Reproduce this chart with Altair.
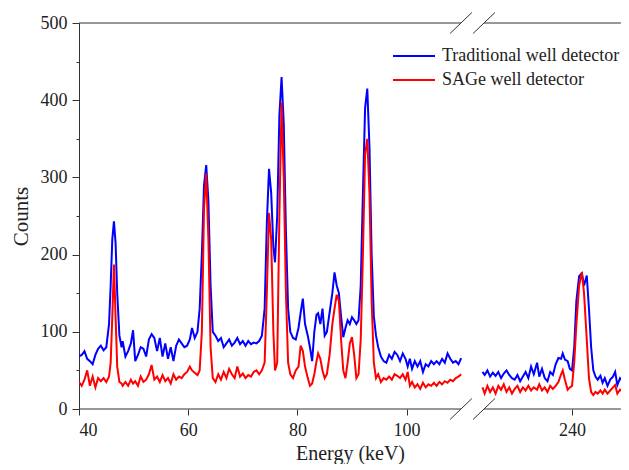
import altair as alt
import pandas as pd

# ---- data (energy in keV, counts) ----
energy_left = [40.0, 40.5, 41.0, 41.5, 42.0, 42.5, 43.0, 43.5, 44.0, 44.5, 45.0, 45.5, 45.8, 46.1, 46.4, 46.7,
               47.0, 47.4, 47.8, 48.0, 48.5, 49.0, 49.5, 49.9, 50.3, 50.8, 51.3, 51.8, 52.3, 52.8, 53.3, 53.8,
               54.3, 54.8, 55.3, 55.8, 56.3, 56.8, 57.3, 57.8, 58.3, 58.8, 59.3, 59.8, 60.3, 60.7, 61.2, 61.7,
               62.1, 62.5, 62.9, 63.3, 63.7, 64.1, 64.5, 65.0, 65.5, 66.0, 66.5, 67.0, 67.5, 68.0, 68.5, 69.0,
               69.5, 70.0, 70.5, 71.0, 71.5, 72.0, 72.5, 73.0, 73.5, 74.0, 74.4, 74.8, 75.2, 75.6, 75.9, 76.3,
               76.7, 77.1, 77.5, 77.9, 78.3, 78.7, 79.2, 79.7, 80.2, 80.6, 81.0, 81.4, 81.9, 82.3, 82.7, 83.1,
               83.5, 83.8, 84.2, 84.6, 85.0, 85.4, 85.9, 86.4, 86.8, 87.2, 87.6, 88.0, 88.4, 88.8, 89.2, 89.6,
               90.0, 90.4, 90.8, 91.2, 91.6, 92.0, 92.4, 92.8, 93.2, 93.6, 94.0, 94.4, 94.8, 95.3, 95.8, 96.3,
               96.8, 97.3, 97.8, 98.3, 98.8, 99.3, 99.8, 100.2, 100.6, 101.0, 101.5, 102.0, 102.5, 103.0, 103.5,
               104.0, 104.5, 105.0, 105.5, 106.0, 106.5, 107.0, 107.5, 108.0, 108.5, 109.0, 109.5, 110.0]
blue_left = [68, 70, 75, 65, 62, 58, 70, 78, 82, 76, 80, 110, 160, 220, 243, 215,
             150, 95, 80, 88, 68, 75, 85, 102, 62, 70, 80, 78, 68, 90, 97, 92,
             75, 92, 68, 85, 65, 80, 62, 82, 90, 85, 80, 82, 90, 105, 92, 100,
             130, 200, 290, 316, 270, 160, 100, 95, 88, 92, 80, 85, 90, 82, 86, 92,
             84, 88, 82, 88, 84, 86, 85, 88, 95, 130, 240, 311, 280, 210, 190, 250,
             380, 430, 370, 230, 130, 100, 92, 90, 105, 125, 143, 110, 95, 80, 62, 100,
             122, 124, 110, 130, 95, 100, 125, 150, 177, 160, 150, 120, 93, 105, 115, 110,
             119, 115, 110, 115, 160, 280, 390, 415, 340, 200, 120, 95, 80, 68, 62, 60,
             70, 65, 74, 70, 62, 72, 65, 55, 65, 52, 62, 55, 62, 48, 58,
             55, 62, 58, 62, 58, 65, 60, 72, 65, 60, 62, 58, 66]
red_left = [35, 30, 38, 50, 30, 42, 28, 40, 36, 40, 35, 42, 60, 120, 187, 120,
            55, 35, 33, 30, 35, 30, 38, 33, 36, 30, 42, 35, 38, 45, 57, 38,
            42, 35, 44, 36, 40, 33, 45, 38, 42, 40, 45, 48, 55, 50, 47, 44,
            50, 100, 260, 305, 220, 80, 40, 35, 45, 38, 48, 40, 52, 45, 40, 55,
            42, 46, 40, 44, 42, 48, 50, 45, 50, 60, 150, 254, 220, 100, 50, 60,
            250, 397, 300, 150, 60, 45, 40, 50, 55, 82, 75, 55, 40, 30, 33, 45,
            62, 72, 65, 50, 40, 45, 70, 110, 130, 148, 140, 90, 50, 40, 60, 85,
            93, 70, 40, 45, 90, 200, 330, 350, 280, 140, 60, 40, 45, 35, 40, 38,
            42, 38, 45, 43, 40, 45, 38, 48, 30, 35, 28, 32, 26, 34, 28,
            32, 30, 34, 30, 35, 32, 36, 34, 38, 36, 40, 42, 45]

energy_right = [223.6, 224.0, 224.5, 225.0, 225.5, 226.0, 226.5, 227.0, 227.5, 228.0, 228.5, 229.0, 229.5,
                230.0, 230.5, 231.0, 231.5, 232.0, 232.5, 233.0, 233.6, 234.0, 234.5, 235.0, 235.5, 236.0,
                236.5, 237.0, 237.5, 238.0, 238.3, 238.7, 239.2, 239.6, 240.0, 240.4, 240.8, 241.3, 241.8,
                242.2, 242.7, 243.1, 243.5, 243.9, 244.3, 244.7, 245.2, 245.6, 246.0, 246.5, 247.0, 247.5,
                247.9, 248.3, 248.8, 249.3, 249.8, 250.3]
blue_right = [48, 44, 50, 42, 47, 43, 48, 40, 46, 50, 44, 40, 38,
              44, 36, 42, 48, 40, 55, 45, 60, 42, 52, 40, 36, 48,
              44, 58, 66, 65, 72, 64, 62, 52, 50, 80, 140, 172, 176,
              160, 173, 130, 80, 50, 42, 38, 43, 34, 40, 30, 38, 42,
              48, 31, 40, 36, 42, 40]
red_right = [28, 20, 30, 22, 28, 20, 30, 25, 32, 22, 28, 20, 26,
             30, 22, 28, 24, 30, 24, 28, 25, 32, 24, 28, 22, 30,
             26, 30, 35, 45, 50, 38, 25, 28, 30, 60, 110, 160, 177,
             150, 90, 40, 22, 18, 22, 20, 24, 20, 25, 20, 24, 28,
             31, 20, 25, 22, 24, 22]

series_names = ["Traditional well detector", "SAGe well detector"]
series_colors = ["#0000ff", "#ff0000"]

# axis break (display units) and display offset of the right segment
AXIS_MIN, AXIS_MAX = 40, 139.27
OFFSET = 109.7
BREAK_LO, BREAK_HI = 109.96, 114.18
x_ticks = [40, 60, 80, 100, 240 - OFFSET]

rows = []
for name, left, right in [(series_names[0], blue_left, blue_right), (series_names[1], red_left, red_right)]:
    for e, c in zip(energy_left, left):
        rows.append({"E": e, "counts": c, "detector": name, "seg": name + "-L"})
    for e, c in zip(energy_right, right):
        rows.append({"E": e, "counts": c, "detector": name, "seg": name + "-R"})
df = pd.DataFrame(rows)

frame_df = pd.DataFrame({
    "x0": [AXIS_MIN, BREAK_HI, AXIS_MIN, BREAK_HI],
    "x1": [BREAK_LO, AXIS_MAX, BREAK_LO, AXIS_MAX],
    "yv": [0, 0, 500, 500],
})
slash_rows = []
for c in [BREAK_LO, BREAK_HI]:
    for ya in [0, 500]:
        slash_rows.append({"x0": c - 2.0, "x1": c + 2.0, "y0": ya - 13.6, "y1": ya + 13.6})
slash_df = pd.DataFrame(slash_rows)

FONT = "Liberation Serif"

xscale = alt.Scale(domain=[AXIS_MIN, AXIS_MAX], nice=False, zero=False)
yscale = alt.Scale(domain=[0, 500], nice=False)

x_axis = alt.Axis(values=x_ticks, domain=False, grid=False, tickSize=6, tickColor="#333",
                  labelExpr=f"datum.value > 112 ? format(round(datum.value + {OFFSET}), 'd') : datum.label",
                  labelFont=FONT, labelFontSize=18, labelColor="#222", labelPadding=6,
                  titleFont=FONT, titleFontSize=20, titleFontWeight="normal", titleColor="#222",
                  titlePadding=4)
y_axis = alt.Axis(values=list(range(0, 501, 50)), grid=False, domain=True, domainColor="#333",
                  tickColor="#333",
                  tickSize={"condition": {"test": "datum.value % 100 != 0", "value": 3}, "value": 7},
                  labelExpr="datum.value % 100 == 0 ? datum.label : ''",
                  labelFont=FONT, labelFontSize=18, labelColor="#222", labelPadding=5,
                  titleFont=FONT, titleFontSize=21, titleFontWeight="normal", titleColor="#222",
                  titlePadding=9)

color = alt.Color("detector:N",
                  scale=alt.Scale(domain=series_names, range=series_colors),
                  legend=alt.Legend(title=None, orient="none", legendX=326, legendY=24,
                                    symbolType="M-3,0H3", symbolSize=196, symbolStrokeWidth=2,
                                    labelFont=FONT, labelFontSize=18, labelColor="#222",
                                    labelOffset=19, labelLimit=0, rowPadding=6))

base = alt.Chart(df).transform_calculate(
    u=f"datum.E > 150 ? datum.E - {OFFSET} : datum.E"
)

X_TITLE = "Energy (keV)"
Y_TITLE = "Counts"

def series_layer(name):
    return base.transform_filter(alt.datum.detector == name).mark_line(strokeWidth=2, clip=True).encode(
        x=alt.X("u:Q", scale=xscale, axis=x_axis, title=X_TITLE),
        y=alt.Y("counts:Q", scale=yscale, axis=y_axis, title=Y_TITLE),
        color=color,
        detail="seg:N",
    )

frame = alt.Chart(frame_df).mark_rule(color="#333", strokeWidth=1).encode(
    x=alt.X("x0:Q", scale=xscale, axis=x_axis, title=X_TITLE), x2="x1:Q",
    y=alt.Y("yv:Q", scale=yscale, axis=y_axis, title=Y_TITLE)
)
slashes = alt.Chart(slash_df).mark_rule(color="#333", strokeWidth=1).encode(
    x=alt.X("x0:Q", scale=xscale, axis=x_axis, title=X_TITLE), x2="x1:Q",
    y=alt.Y("y0:Q", scale=yscale, axis=y_axis, title=Y_TITLE), y2="y1:Q"
)

chart = alt.layer(
    series_layer(series_names[0]), series_layer(series_names[1]), frame, slashes
).properties(
    width=542, height=386,
    padding={"left": 71, "top": 15, "right": 0, "bottom": 55},
    autosize=alt.AutoSizeParams(type="none"),
).configure_view(stroke=None)

chart.save("out.html", embed_options={"renderer": "svg", "actions": False})
